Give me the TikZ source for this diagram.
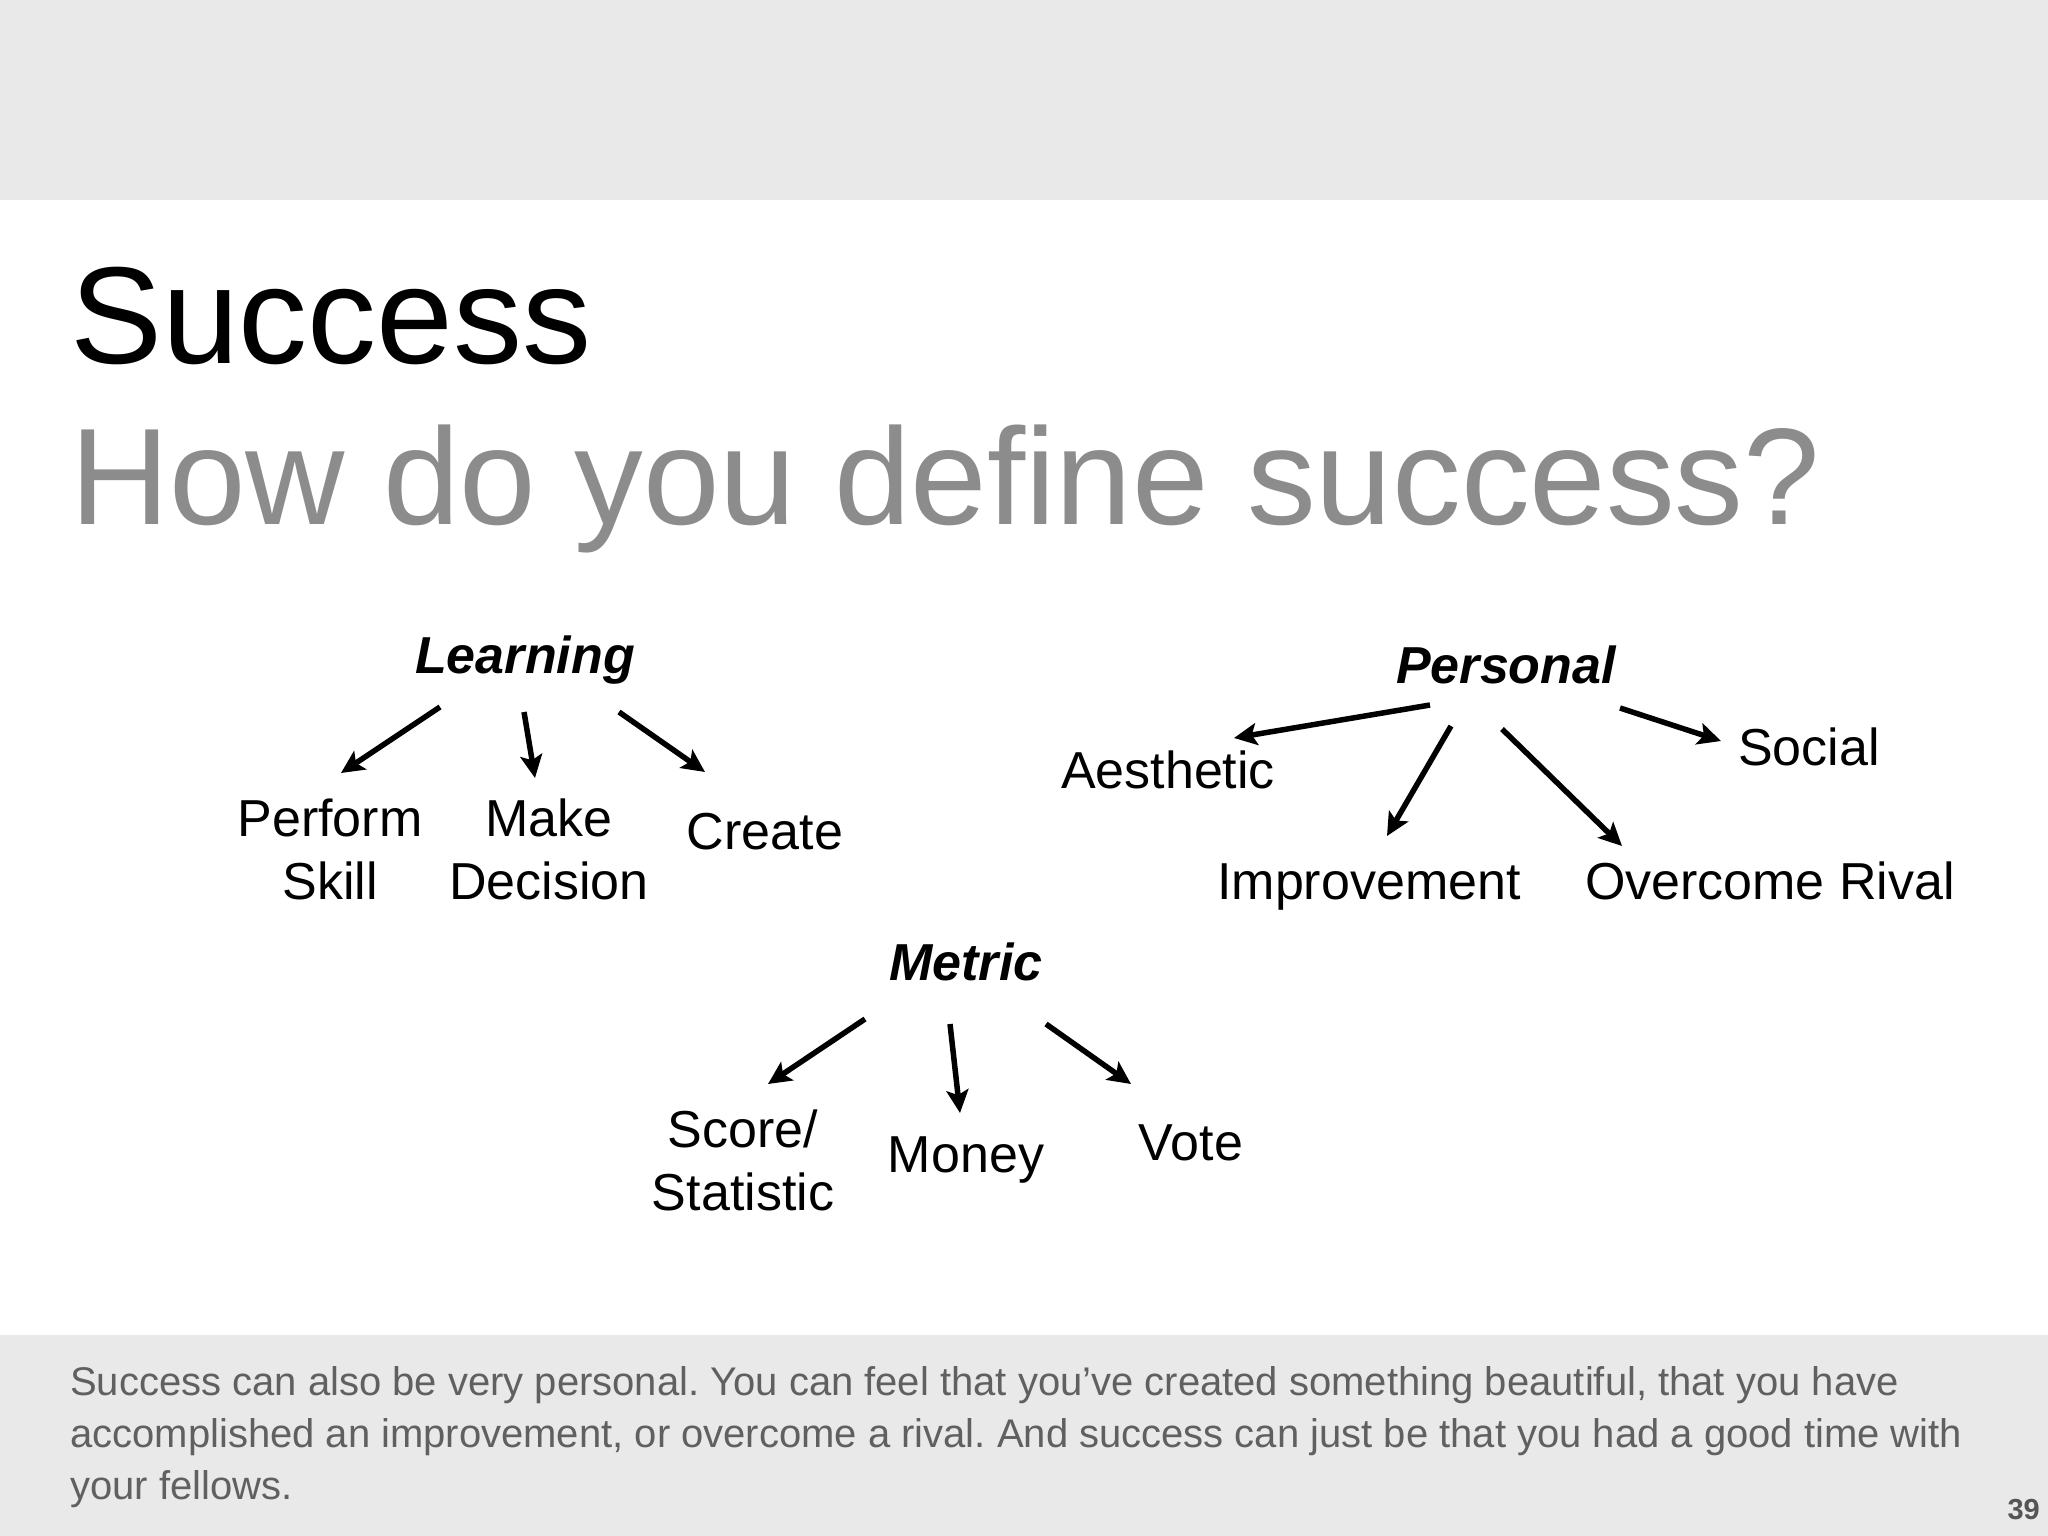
\documentclass[tikz,border=0pt]{standalone}
\usepackage{fontspec}
\setmainfont{Liberation Sans}
\usetikzlibrary{arrows.meta}
\definecolor{band}{HTML}{E9E9E9}
\definecolor{subgray}{HTML}{8C8C8C}
\definecolor{foot}{HTML}{606060}
\definecolor{pagenum}{HTML}{555555}
\frenchspacing
\begin{document}
\begin{tikzpicture}[x=1pt,y=-1pt,
  head/.style={font=\fontsize{52}{60}\selectfont\bfseries\itshape, anchor=base, inner sep=0pt},
  item/.style={font=\fontsize{52}{63}\selectfont, anchor=base, inner sep=0pt},
  arr/.style={line width=5.5pt, -{Stealth[length=23pt,width=22pt,inset=5pt]}},
  footnote/.style={font=\fontsize{40}{52}\selectfont, text=foot, anchor=base west, inner sep=0pt}]
\useasboundingbox (0,0) rectangle (2048,1536);
\fill[white] (0,0) rectangle (2048,1536);
\fill[band] (0,0) rectangle (2048,200);
\fill[band] (0,1335) rectangle (2048,1536);
% titles
\node[anchor=base west, inner sep=0pt, font=\fontsize{138}{140}\selectfont] (title) at (70,363) {Success};
\node[anchor=base west, inner sep=0pt, font=\fontsize{137.5}{140}\selectfont, text=subgray] (subtitle) at (70,524) {How do you define success?};
% Learning
\node[head] (learn) at (525,673) {Learning};
\node[item] (perform) at (330,836) {\begin{tabular}[t]{@{}c@{}}Perform\\Skill\end{tabular}};
\node[item] (make) at (549,836) {\begin{tabular}[t]{@{}c@{}}Make\\Decision\end{tabular}};
\node[item] (create) at (765,849) {Create};
% Personal
\node[head] (pers) at (1506,683) {Personal};
\node[item] (aesth) at (1168,788) {Aesthetic};
\node[item] (social) at (1809,765) {Social};
\node[item] (improve) at (1369,899) {Improvement};
\node[item] (rival) at (1770,899) {Overcome Rival};
% Metric
\node[head] (metric) at (966,980) {Metric};
\node[item] (score) at (743,1147) {\begin{tabular}[t]{@{}c@{}}Score/\\Statistic\end{tabular}};
\node[item] (money) at (966,1172) {Money};
\node[item] (vote) at (1191,1160) {Vote};
% arrow end points
\coordinate (l1s) at (440,707); \coordinate (l1e) at (341,773);
\coordinate (l2s) at (524,712); \coordinate (l2e) at (535,778);
\coordinate (l3s) at (619,712); \coordinate (l3e) at (705,772);
\coordinate (p1s) at (1430,705); \coordinate (p1e) at (1234,738);
\coordinate (p2s) at (1451,726); \coordinate (p2e) at (1387,836);
\coordinate (p3s) at (1502,729); \coordinate (p3e) at (1622,846);
\coordinate (p4s) at (1620,708); \coordinate (p4e) at (1721,741);
\coordinate (m1s) at (865,1019); \coordinate (m1e) at (768,1084);
\coordinate (m2s) at (950,1024); \coordinate (m2e) at (960,1113);
\coordinate (m3s) at (1046,1024); \coordinate (m3e) at (1131,1084);
\draw[arr] (l1s) -- (l1e);
\draw[arr] (l2s) -- (l2e);
\draw[arr] (l3s) -- (l3e);
\draw[arr] (p1s) -- (p1e);
\draw[arr] (p2s) -- (p2e);
\draw[arr] (p3s) -- (p3e);
\draw[arr] (p4s) -- (p4e);
\draw[arr] (m1s) -- (m1e);
\draw[arr] (m2s) -- (m2e);
\draw[arr] (m3s) -- (m3e);
% footer
\node[footnote] (f1) at (70,1395) {Success can also be very personal. You can feel that you've created something beautiful, that you have};
\node[footnote] (f2) at (70,1447) {accomplished an improvement, or overcome a rival. And success can just be that you had a good time with};
\node[footnote] (f3) at (70,1499) {your fellows.};
\node[anchor=base east, inner sep=0pt, font=\fontsize{29}{30}\selectfont\bfseries, text=pagenum] (page) at (2040,1519) {39};
\end{tikzpicture}
\end{document}
